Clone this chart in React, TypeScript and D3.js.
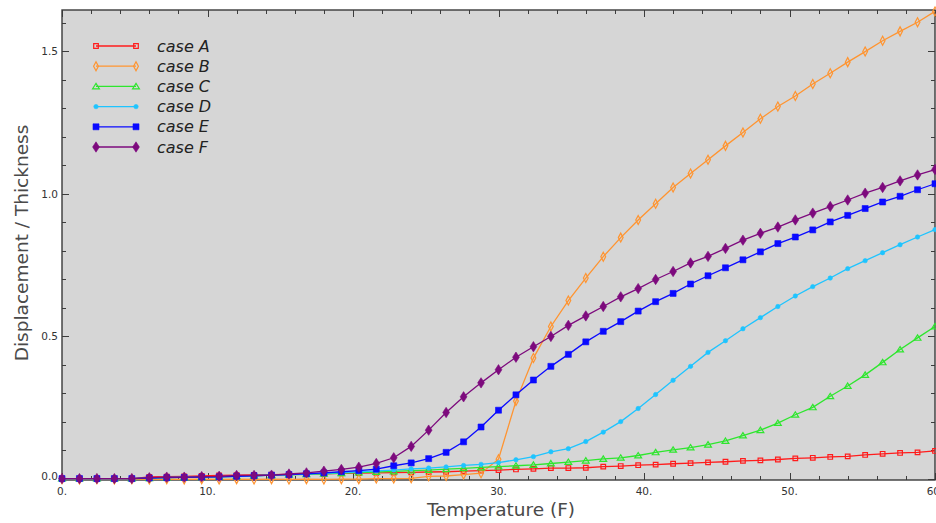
import React, { useEffect, useRef } from 'react';
import * as d3 from 'd3';

const temps = [0, 1.2, 2.4, 3.6, 4.8, 6, 7.2, 8.4, 9.6, 10.8, 12, 13.2, 14.4, 15.6, 16.8, 18, 19.2, 20.4, 21.6, 22.8, 24, 25.2, 26.4, 27.6, 28.8, 30, 31.2, 32.4, 33.6, 34.8, 36, 37.2, 38.4, 39.6, 40.8, 42, 43.2, 44.4, 45.6, 46.8, 48, 49.2, 50.4, 51.6, 52.8, 54, 55.2, 56.4, 57.6, 58.8, 60];

const caseA = [0, 0, 0, 0, 0, 0.006, 0.007, 0.008, 0.009, 0.011, 0.012, 0.013, 0.014, 0.015, 0.016, 0.017, 0.018, 0.019, 0.020, 0.021, 0.022, 0.023, 0.024, 0.026, 0.028, 0.030, 0.032, 0.034, 0.037, 0.037, 0.038, 0.042, 0.044, 0.047, 0.049, 0.052, 0.054, 0.057, 0.059, 0.062, 0.064, 0.067, 0.071, 0.073, 0.076, 0.078, 0.083, 0.087, 0.090, 0.092, 0.097];
const caseB = [-0.002, -0.003, -0.002, -0.003, -0.002, -0.003, -0.002, -0.003, -0.002, -0.003, -0.002, -0.003, -0.002, -0.003, -0.002, -0.003, -0.002, -0.002, 0, 0, 0.001, 0.008, 0.009, 0.014, 0.019, 0.068, 0.272, 0.423, 0.534, 0.625, 0.704, 0.779, 0.846, 0.908, 0.965, 1.022, 1.071, 1.119, 1.168, 1.215, 1.263, 1.306, 1.343, 1.385, 1.423, 1.462, 1.499, 1.537, 1.570, 1.602, 1.640];
const caseC = [0, 0, 0, 0, 0, 0.001, 0.003, 0.004, 0.005, 0.006, 0.008, 0.010, 0.012, 0.013, 0.015, 0.017, 0.019, 0.021, 0.023, 0.025, 0.028, 0.030, 0.033, 0.036, 0.039, 0.042, 0.045, 0.048, 0.053, 0.058, 0.063, 0.069, 0.073, 0.081, 0.092, 0.101, 0.109, 0.119, 0.132, 0.151, 0.170, 0.195, 0.224, 0.250, 0.289, 0.325, 0.364, 0.408, 0.453, 0.494, 0.534];
const caseD = [0, 0, 0, 0, 0, 0.002, 0.004, 0.005, 0.006, 0.007, 0.008, 0.010, 0.012, 0.014, 0.016, 0.018, 0.021, 0.024, 0.027, 0.030, 0.034, 0.037, 0.041, 0.046, 0.050, 0.056, 0.066, 0.077, 0.094, 0.105, 0.130, 0.163, 0.200, 0.246, 0.295, 0.345, 0.394, 0.443, 0.484, 0.526, 0.565, 0.604, 0.641, 0.674, 0.704, 0.737, 0.765, 0.793, 0.821, 0.848, 0.874];
const caseE = [0, 0, 0, 0, 0, 0.002, 0.003, 0.004, 0.005, 0.006, 0.008, 0.010, 0.012, 0.014, 0.017, 0.020, 0.024, 0.028, 0.033, 0.045, 0.055, 0.070, 0.092, 0.129, 0.181, 0.240, 0.294, 0.346, 0.394, 0.436, 0.480, 0.517, 0.551, 0.588, 0.621, 0.650, 0.683, 0.712, 0.740, 0.768, 0.796, 0.825, 0.848, 0.873, 0.901, 0.924, 0.948, 0.971, 0.991, 1.014, 1.035];
const caseF = [0, 0, 0, 0, 0, 0.003, 0.005, 0.005, 0.007, 0.008, 0.011, 0.011, 0.012, 0.016, 0.020, 0.026, 0.032, 0.040, 0.053, 0.073, 0.113, 0.170, 0.232, 0.287, 0.336, 0.382, 0.426, 0.463, 0.499, 0.538, 0.571, 0.604, 0.638, 0.667, 0.699, 0.727, 0.757, 0.780, 0.808, 0.837, 0.861, 0.883, 0.908, 0.932, 0.955, 0.978, 1.002, 1.022, 1.045, 1.066, 1.085];

const seriesNames = ['case A', 'case B', 'case C', 'case D', 'case E', 'case F'];
const seriesValues = [caseA, caseB, caseC, caseD, caseE, caseF];
const seriesColors = ['#ff1c1c', '#ff9430', '#2ee62e', '#1ec4ff', '#0a0aff', '#7d0a7d'];
const seriesMarkers = ['openSquare', 'openDiamond', 'openTriangle', 'circle', 'square', 'diamond'];

const xTicks = [0, 10, 20, 30, 40, 50, 60];
const xTickLabels = ['0.', '10.', '20.', '30.', '40.', '50.', '60.'];
const yTicks = [0, 0.5, 1.0, 1.5];
const yTickLabels = ['0.0', '0.5', '1.0', '1.5'];

const markerPath = (kind: string) => {
  switch (kind) {
    case 'openSquare': return 'M-2.3,-2.3H2.3V2.3H-2.3Z';
    case 'openDiamond': return 'M0,-4.5L2.4,0L0,4.5L-2.4,0Z';
    case 'openTriangle': return 'M0,-3L3.4,2.4H-3.4Z';
    case 'circle': return 'M2.2,0A2.2,2.2 0 1,1 -2.2,0A2.2,2.2 0 1,1 2.2,0Z';
    case 'square': return 'M-3,-3H3V3H-3Z';
    default: return 'M0,-5.2L3.4,0L0,5.2L-3.4,0Z';
  }
};

const isOpen = (kind: string) => kind.startsWith('open');

const App = () => {
  const ref = useRef<SVGSVGElement>(null);

  useEffect(() => {
    const W = 936, H = 523;
    const left = 62, right = 935, top = 10, bottom = 480;

    const svg = d3.select(ref.current);
    svg.selectAll('*').remove();

    const x = d3.scaleLinear().domain([0, 60]).range([left, right]);
    const y = d3.scaleLinear().domain([-0.005, 1.645]).range([bottom, top]);

    svg.append('rect').attr('width', W).attr('height', H).attr('fill', '#fff');
    svg.append('rect')
      .attr('x', left).attr('y', top)
      .attr('width', right - left).attr('height', bottom - top)
      .attr('fill', '#d6d6d6');

    // ticks on all four sides, pointing inward
    const tickColor = '#3c3c3c';
    const tg = svg.append('g').attr('stroke', tickColor).attr('stroke-width', 1);
    d3.range(0, 61, 2).forEach(t => {
      const major = t % 10 === 0;
      const len = major ? 7 : 4;
      const px = Math.round(x(t)) + 0.5;
      tg.append('line').attr('x1', px).attr('x2', px).attr('y1', bottom).attr('y2', bottom - len);
      tg.append('line').attr('x1', px).attr('x2', px).attr('y1', top).attr('y2', top + len);
    });
    d3.range(0, 17).forEach(k => {
      const v = k / 10;
      const major = k % 5 === 0;
      const len = major ? 7 : 4;
      const py = Math.round(y(v)) + 0.5;
      tg.append('line').attr('x1', left).attr('x2', left + len).attr('y1', py).attr('y2', py);
      tg.append('line').attr('x1', right).attr('x2', right - len).attr('y1', py).attr('y2', py);
    });

    // frame
    svg.append('rect')
      .attr('x', left).attr('y', top)
      .attr('width', right - left).attr('height', bottom - top)
      .attr('fill', 'none').attr('stroke', '#3a3a3a').attr('stroke-width', 1.4);

    // tick labels
    const lab = svg.append('g')
      .attr('font-family', 'DejaVu Sans, sans-serif')
      .attr('font-size', 10.5)
      .attr('fill', '#333');
    xTicks.forEach((t, i) => {
      lab.append('text')
        .attr('x', x(t)).attr('y', bottom + 15)
        .attr('text-anchor', 'middle')
        .text(xTickLabels[i]);
    });
    yTicks.forEach((t, i) => {
      lab.append('text')
        .attr('x', left - 4).attr('y', y(t) + (t === 0 ? 1 : 4))
        .attr('text-anchor', 'end')
        .text(yTickLabels[i]);
    });

    // axis titles
    svg.append('text')
      .attr('x', 501).attr('y', 516)
      .attr('text-anchor', 'middle')
      .attr('font-family', 'DejaVu Sans, sans-serif')
      .attr('font-size', 18.5)
      .attr('fill', '#4a4a4a')
      .text('Temperature (F)');
    svg.append('text')
      .attr('transform', `translate(28,243) rotate(-90)`)
      .attr('text-anchor', 'middle')
      .attr('font-family', 'DejaVu Sans, sans-serif')
      .attr('font-size', 18.5)
      .attr('fill', '#4a4a4a')
      .text('Displacement / Thickness');

    // series
    const line = d3.line<number>()
      .x((_, i) => x(temps[i]))
      .y(d => y(d));

    seriesValues.forEach((vals, s) => {
      const color = seriesColors[s];
      const kind = seriesMarkers[s];
      const g = svg.append('g');
      g.append('path')
        .datum(vals)
        .attr('d', line)
        .attr('fill', 'none')
        .attr('stroke', color)
        .attr('stroke-width', 1.3);
      g.selectAll('path.mk')
        .data(vals)
        .enter()
        .append('path')
        .attr('class', 'mk')
        .attr('transform', (d, i) => `translate(${x(temps[i])},${y(d)})`)
        .attr('d', markerPath(kind))
        .attr('fill', isOpen(kind) ? 'none' : color)
        .attr('stroke', color)
        .attr('stroke-width', isOpen(kind) ? 1.2 : 0.6);
    });

    // legend
    const lg = svg.append('g');
    seriesNames.forEach((name, s) => {
      const ly = 46 + s * 20.2;
      const color = seriesColors[s];
      const kind = seriesMarkers[s];
      lg.append('line')
        .attr('x1', 96).attr('x2', 136).attr('y1', ly).attr('y2', ly)
        .attr('stroke', color).attr('stroke-width', 1.3);
      [96, 136].forEach(mx => {
        lg.append('path')
          .attr('transform', `translate(${mx},${ly})`)
          .attr('d', markerPath(kind))
          .attr('fill', isOpen(kind) ? 'none' : color)
          .attr('stroke', color)
          .attr('stroke-width', isOpen(kind) ? 1.2 : 0.6);
      });
      lg.append('text')
        .attr('x', 157).attr('y', ly + 5.5)
        .attr('font-family', 'DejaVu Sans, sans-serif')
        .attr('font-style', 'italic')
        .attr('font-size', 16)
        .attr('fill', '#222')
        .text(name);
    });
  }, []);

  return (
    <svg
      ref={ref}
      width={936}
      height={523}
      style={{ position: 'absolute', left: 0, top: 0, display: 'block' }}
    />
  );
};

export default App;
